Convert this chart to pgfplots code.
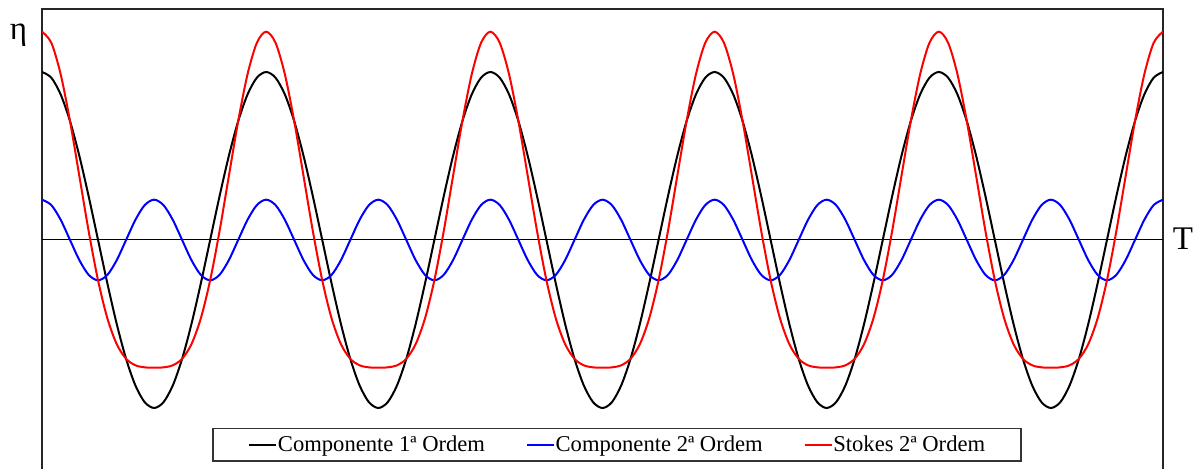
\documentclass[border=0pt]{standalone}
\usepackage{fontspec}
\setmainfont{Liberation Serif}
\usepackage{pgfplots}
\usepackage{pgfplotstable}
\pgfplotsset{compat=1.18}

% Surface elevation over five wave periods (phase in degrees):
% first-order component, second-order component and their Stokes sum
\pgfplotstableread{
x eta1 eta2 stokes
0 1.0000 0.2400 1.2400
15 0.9659 0.2078 1.1737
30 0.8660 0.1200 0.9860
45 0.7071 0.0000 0.7071
60 0.5000 -0.1200 0.3800
75 0.2588 -0.2078 0.0510
90 0.0000 -0.2400 -0.2400
105 -0.2588 -0.2078 -0.4666
120 -0.5000 -0.1200 -0.6200
135 -0.7071 0.0000 -0.7071
150 -0.8660 0.1200 -0.7460
165 -0.9659 0.2078 -0.7581
180 -1.0000 0.2400 -0.7600
195 -0.9659 0.2078 -0.7581
210 -0.8660 0.1200 -0.7460
225 -0.7071 0.0000 -0.7071
240 -0.5000 -0.1200 -0.6200
255 -0.2588 -0.2078 -0.4666
270 0.0000 -0.2400 -0.2400
285 0.2588 -0.2078 0.0510
300 0.5000 -0.1200 0.3800
315 0.7071 0.0000 0.7071
330 0.8660 0.1200 0.9860
345 0.9659 0.2078 1.1737
360 1.0000 0.2400 1.2400
375 0.9659 0.2078 1.1737
390 0.8660 0.1200 0.9860
405 0.7071 0.0000 0.7071
420 0.5000 -0.1200 0.3800
435 0.2588 -0.2078 0.0510
450 0.0000 -0.2400 -0.2400
465 -0.2588 -0.2078 -0.4666
480 -0.5000 -0.1200 -0.6200
495 -0.7071 0.0000 -0.7071
510 -0.8660 0.1200 -0.7460
525 -0.9659 0.2078 -0.7581
540 -1.0000 0.2400 -0.7600
555 -0.9659 0.2078 -0.7581
570 -0.8660 0.1200 -0.7460
585 -0.7071 0.0000 -0.7071
600 -0.5000 -0.1200 -0.6200
615 -0.2588 -0.2078 -0.4666
630 0.0000 -0.2400 -0.2400
645 0.2588 -0.2078 0.0510
660 0.5000 -0.1200 0.3800
675 0.7071 0.0000 0.7071
690 0.8660 0.1200 0.9860
705 0.9659 0.2078 1.1737
720 1.0000 0.2400 1.2400
735 0.9659 0.2078 1.1737
750 0.8660 0.1200 0.9860
765 0.7071 0.0000 0.7071
780 0.5000 -0.1200 0.3800
795 0.2588 -0.2078 0.0510
810 0.0000 -0.2400 -0.2400
825 -0.2588 -0.2078 -0.4666
840 -0.5000 -0.1200 -0.6200
855 -0.7071 0.0000 -0.7071
870 -0.8660 0.1200 -0.7460
885 -0.9659 0.2078 -0.7581
900 -1.0000 0.2400 -0.7600
915 -0.9659 0.2078 -0.7581
930 -0.8660 0.1200 -0.7460
945 -0.7071 0.0000 -0.7071
960 -0.5000 -0.1200 -0.6200
975 -0.2588 -0.2078 -0.4666
990 0.0000 -0.2400 -0.2400
1005 0.2588 -0.2078 0.0510
1020 0.5000 -0.1200 0.3800
1035 0.7071 0.0000 0.7071
1050 0.8660 0.1200 0.9860
1065 0.9659 0.2078 1.1737
1080 1.0000 0.2400 1.2400
1095 0.9659 0.2078 1.1737
1110 0.8660 0.1200 0.9860
1125 0.7071 0.0000 0.7071
1140 0.5000 -0.1200 0.3800
1155 0.2588 -0.2078 0.0510
1170 0.0000 -0.2400 -0.2400
1185 -0.2588 -0.2078 -0.4666
1200 -0.5000 -0.1200 -0.6200
1215 -0.7071 0.0000 -0.7071
1230 -0.8660 0.1200 -0.7460
1245 -0.9659 0.2078 -0.7581
1260 -1.0000 0.2400 -0.7600
1275 -0.9659 0.2078 -0.7581
1290 -0.8660 0.1200 -0.7460
1305 -0.7071 0.0000 -0.7071
1320 -0.5000 -0.1200 -0.6200
1335 -0.2588 -0.2078 -0.4666
1350 0.0000 -0.2400 -0.2400
1365 0.2588 -0.2078 0.0510
1380 0.5000 -0.1200 0.3800
1395 0.7071 0.0000 0.7071
1410 0.8660 0.1200 0.9860
1425 0.9659 0.2078 1.1737
1440 1.0000 0.2400 1.2400
1455 0.9659 0.2078 1.1737
1470 0.8660 0.1200 0.9860
1485 0.7071 0.0000 0.7071
1500 0.5000 -0.1200 0.3800
1515 0.2588 -0.2078 0.0510
1530 0.0000 -0.2400 -0.2400
1545 -0.2588 -0.2078 -0.4666
1560 -0.5000 -0.1200 -0.6200
1575 -0.7071 0.0000 -0.7071
1590 -0.8660 0.1200 -0.7460
1605 -0.9659 0.2078 -0.7581
1620 -1.0000 0.2400 -0.7600
1635 -0.9659 0.2078 -0.7581
1650 -0.8660 0.1200 -0.7460
1665 -0.7071 0.0000 -0.7071
1680 -0.5000 -0.1200 -0.6200
1695 -0.2588 -0.2078 -0.4666
1710 0.0000 -0.2400 -0.2400
1725 0.2588 -0.2078 0.0510
1740 0.5000 -0.1200 0.3800
1755 0.7071 0.0000 0.7071
1770 0.8660 0.1200 0.9860
1785 0.9659 0.2078 1.1737
1800 1.0000 0.2400 1.2400
}\waves

\begin{document}
\begin{tikzpicture}
\begin{axis}[
  scale only axis,
  width=560.5pt, height=231pt,
  xmin=0, xmax=1800,
  ymin=-1.375, ymax=1.375,
  xtick=\empty, ytick=\empty,
  clip mode=individual,
  axis line style={line width=0.75pt, black!85},
  legend columns=3,
  legend style={
    at={(rel axis cs:0.513,0.0195)}, anchor=south,
    draw=black!80, line width=0.75pt, fill=white,
    font=\fontsize{11.3}{13.5}\selectfont,
    inner xsep=17.5pt, inner ysep=1.5pt,
    nodes={inner xsep=0.4pt, inner ysep=2pt},
    /tikz/every odd column/.append style={column sep=0pt},
    /tikz/every even column/.append style={column sep=20pt},
  },
  legend image code/.code={\draw[#1, line width=1pt] (0pt,0pt) -- (13.5pt,0pt);},
]
  % still-water level
  \addplot[black, line width=0.5pt, forget plot] coordinates {(0,0) (1800,0)};

  \addplot[black, line width=1pt, smooth] table[x=x, y=eta1] {\waves};
  \addlegendentry{Componente 1ª Ordem}
  \addplot[blue, line width=1pt, smooth] table[x=x, y=eta2] {\waves};
  \addlegendentry{Componente 2ª Ordem}
  \addplot[red, line width=1pt, smooth] table[x=x, y=stokes] {\waves};
  \addlegendentry{Stokes 2ª Ordem}

  \coordinate (bl) at (rel axis cs:0,0);
  \coordinate (tr) at (rel axis cs:1,1);
  \node[anchor=base, font=\fontsize{16.5}{18}\selectfont]
    at ([shift={(-11.75pt,-15.5pt)}]rel axis cs:0,1) {η};
  \node[anchor=base, font=\fontsize{16.5}{18}\selectfont]
    at ([shift={(10pt,-5pt)}]rel axis cs:1,0.5) {T};
\end{axis}
\pgfresetboundingbox
\useasboundingbox ([shift={(-21pt,1pt)}]bl) rectangle ([shift={(18.5pt,4.5pt)}]tr);
\end{tikzpicture}
\end{document}
